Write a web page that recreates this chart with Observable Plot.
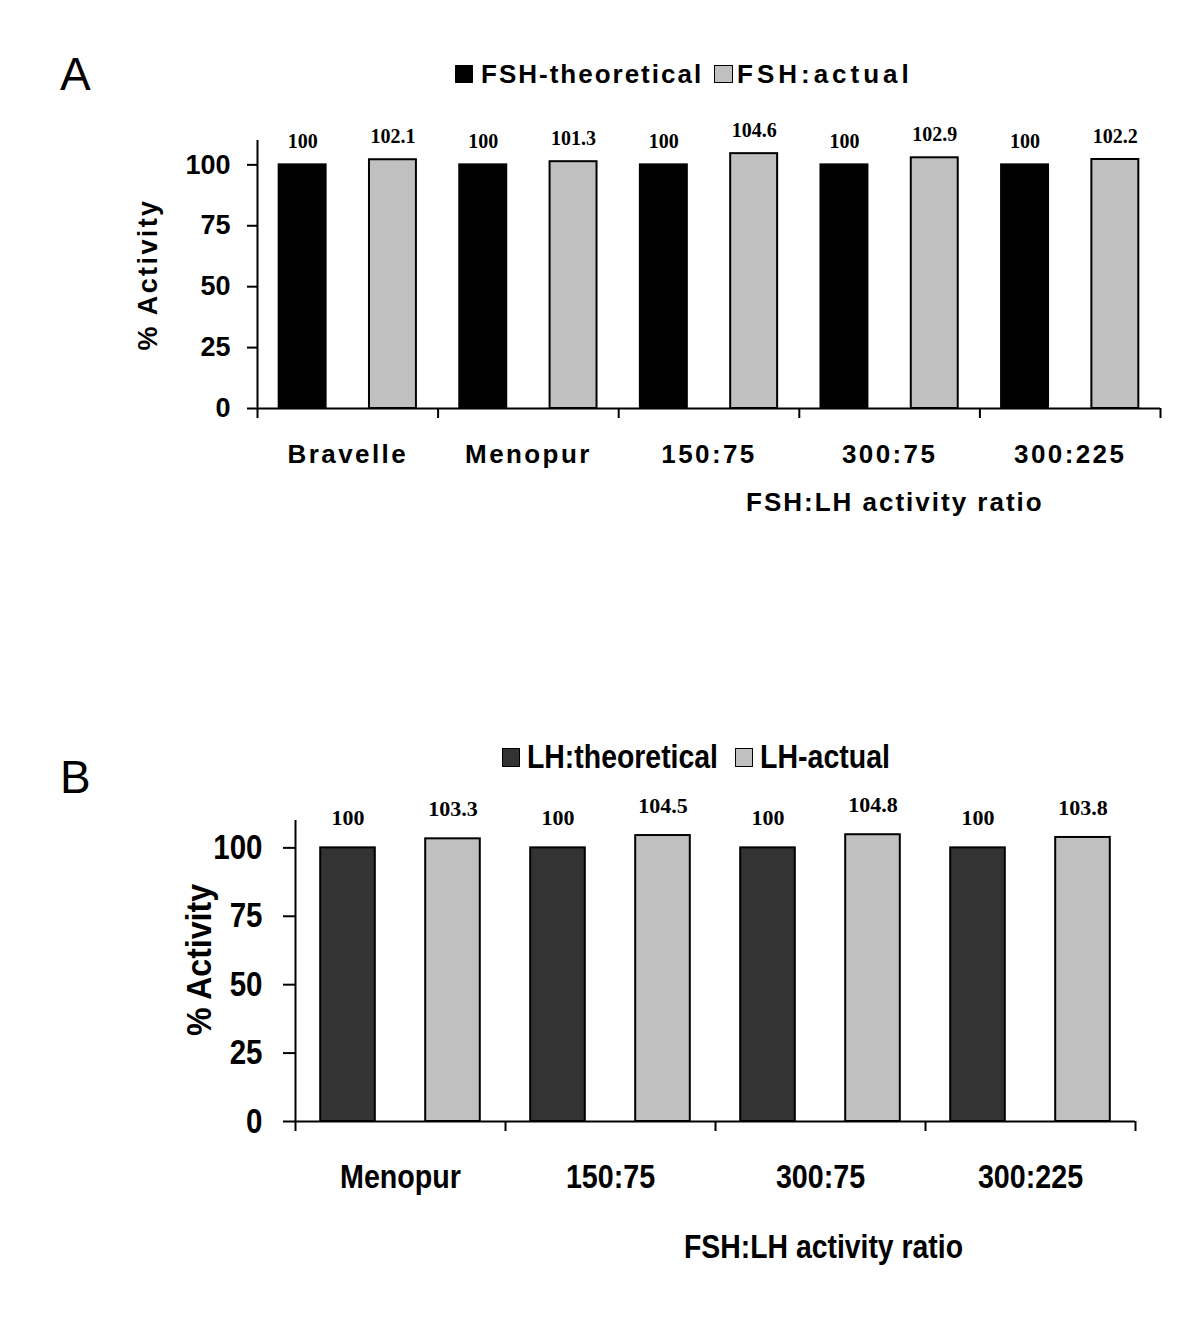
<!DOCTYPE html>
<html>
<head>
<meta charset="utf-8">
<script src="https://cdn.jsdelivr.net/npm/d3@7"></script>
<script src="https://cdn.jsdelivr.net/npm/@observablehq/plot@0.6"></script>
<style>
  html, body { margin: 0; padding: 0; background: #fff; }
  #page { position: relative; width: 1200px; height: 1344px; background: #fff; overflow: hidden; color: #000; }
  .abs { position: absolute; white-space: nowrap; line-height: 1; transform-origin: 0 50%; }
  .sans { font-family: "Liberation Sans", Arial, sans-serif; }
  .sw { position: absolute; box-sizing: border-box; }
</style>
</head>
<body>
<div id="page"></div>
<script>
// ---------- data ----------
const groupsA = ["Bravelle", "Menopur", "150:75", "300:75", "300:225"];
const theoreticalA = [100, 100, 100, 100, 100];
const actualA = [102.1, 101.3, 104.6, 102.9, 102.2];
const seriesA = ["FSH-theoretical", "FSH:actual"];
const colorsA = ["#000000", "#c0c0c0"];

const groupsB = ["Menopur", "150:75", "300:75", "300:225"];
const theoreticalB = [100, 100, 100, 100];
const actualB = [103.3, 104.5, 104.8, 103.8];
const seriesB = ["LH:theoretical", "LH-actual"];
const colorsB = ["#333333", "#c0c0c0"];

const yTicks = [0, 25, 50, 75, 100];
const yDomain = [0, 110];
const yLabel = "% Activity";
const xTitle = "FSH:LH activity ratio";

const page = document.getElementById("page");
const SANS = '"Liberation Sans", Arial, sans-serif';
const SERIF = '"Liberation Serif", "Times New Roman", serif';

function addText(txt, left, top, fs, extra = {}, fitWidth = null) {
  const d = document.createElement("div");
  d.className = "abs sans";
  d.textContent = txt;
  d.style.left = left + "px";
  d.style.top = top + "px";
  d.style.fontSize = fs + "px";
  Object.assign(d.style, extra);
  page.appendChild(d);
  if (fitWidth) {
    const w = d.getBoundingClientRect().width;
    if (w > 0) d.style.transform = `scaleX(${fitWidth / w})`;
  }
  return d;
}
function addSwatch(left, top, w, h, fill, border) {
  const d = document.createElement("div");
  d.className = "sw";
  Object.assign(d.style, {left: left + "px", top: top + "px", width: w + "px", height: h + "px", background: fill,
    border: border ? border : "none"});
  page.appendChild(d);
}
function squeeze(texts, k) {
  texts.forEach(t => {
    const L = t.getComputedTextLength();
    if (L > 0) { t.setAttribute("textLength", L * k); t.setAttribute("lengthAdjust", "spacingAndGlyphs"); }
  });
}

function drawPanel(cfg) {
  const {groups, theoretical, actual, series, colors} = cfg;
  const rows = groups.flatMap((g, i) => [
    {g, i, s: series[0], v: theoretical[i]},
    {g, i, s: series[1], v: actual[i]}
  ]);
  const slot = d3.scaleBand().domain(series).range([0, 1]).paddingInner(0.48).paddingOuter(0.24);
  const bw = slot.bandwidth();
  const x1 = d => d.i + slot(d.s);
  const x2 = d => d.i + slot(d.s) + bw;
  const xm = d => d.i + slot(d.s) + bw / 2;

  const svg = Plot.plot({
    width: 1200,
    height: cfg.height,
    marginTop: cfg.mt, marginBottom: cfg.mb, marginLeft: cfg.ml, marginRight: cfg.mr,
    style: {background: "transparent", color: "#000", overflow: "visible", fontFamily: SANS},
    x: {domain: [0, groups.length], axis: null},
    y: {domain: yDomain, axis: null},
    color: {type: "ordinal", domain: series, range: colors},
    marks: [
      Plot.rect(rows, {x1, x2, y1: 0, y2: "v", fill: "s", stroke: "#000", strokeWidth: 2}),
      Plot.ruleX([0], {stroke: "#000", strokeWidth: 2}),
      Plot.ruleY([0], {stroke: "#000", strokeWidth: 2}),
      Plot.axisY({ticks: yTicks, tickSize: cfg.ytick, tickPadding: cfg.ypad, strokeWidth: 2,
        fontSize: cfg.yfs, fontWeight: "bold", fontFamily: SANS,
        label: yLabel, labelAnchor: "center", labelOffset: cfg.ylo, labelArrow: "none"}),
      Plot.axisX({ticks: d3.range(groups.length + 1), tickSize: cfg.xtick, tickFormat: () => "",
        strokeWidth: 2, label: null}),
      Plot.axisX({ticks: groups.map((g, i) => i + 0.5), tickFormat: v => groups[Math.floor(v)],
        tickSize: 0, tickPadding: cfg.xpad, fontSize: cfg.xfs, fontWeight: "bold", fontFamily: SANS, label: null}),
      Plot.text(rows, {x: xm, y: "v", text: d => String(d.v), dy: cfg.vdy, fontSize: cfg.vfs,
        fontWeight: "bold", fontFamily: SERIF, fill: "#000"})
    ]
  });
  svg.querySelectorAll('g[aria-label="x-axis tick label"], g[aria-label="y-axis label"]').forEach(g => {
    g.setAttribute("letter-spacing", cfg.ls);
  });
  const wrap = document.createElement("div");
  wrap.style.position = "absolute";
  wrap.style.left = "0px";
  wrap.style.top = cfg.top + "px";
  wrap.appendChild(svg);
  page.appendChild(wrap);

  if (cfg.narrow) {
    // condensed look: fit the first category label to its width in the reference, squeeze the rest alike
    const xt = [...svg.querySelectorAll('g[aria-label="x-axis tick label"] text')].filter(t => t.textContent);
    const ref = xt.find(t => t.textContent === groups[0]);
    const k = ref ? cfg.narrow / ref.getComputedTextLength() : 0.8;
    squeeze(xt, k);
    squeeze([...svg.querySelectorAll('g[aria-label="y-axis tick label"] text')], k);
    const yl = [...svg.querySelectorAll('g[aria-label="y-axis label"] text')];
    yl.forEach(t => {
      const L = t.getComputedTextLength();
      if (L > 0) { t.setAttribute("textLength", cfg.ylen); t.setAttribute("lengthAdjust", "spacingAndGlyphs"); }
      if (cfg.yshift) t.setAttribute("transform", `translate(0,${cfg.yshift}) ` + (t.getAttribute("transform") || ""));
    });
  }
}

// ---------- Panel A ----------
drawPanel({
  groups: groupsA, theoretical: theoreticalA, actual: actualA, series: seriesA, colors: colorsA,
  top: 0, height: 540, mt: 140, mb: 132, ml: 257, mr: 40,
  ytick: 10, ypad: 17, yfs: 27, ylo: 120, xtick: 10, xpad: 36, xfs: 26,
  vdy: -23, vfs: 20, ls: "2.4"
});
addText("A", 60, 51, 46);
addSwatch(455, 65, 18, 18, colorsA[0], null);
addText(seriesA[0], 481, 61, 26, {fontWeight: "bold", letterSpacing: "2px"});
addSwatch(714, 65, 19, 18, colorsA[1], "1.5px solid #000");
addText(seriesA[1], 737, 61, 26, {fontWeight: "bold", letterSpacing: "4px"});
addText(xTitle, 746, 489, 26, {fontWeight: "bold", letterSpacing: "2px"});

// ---------- Panel B ----------
drawPanel({
  groups: groupsB, theoretical: theoreticalB, actual: actualB, series: seriesB, colors: colorsB,
  top: 700, height: 600, mt: 120, mb: 179, ml: 295, mr: 65,
  ytick: 12, ypad: 21, yfs: 35, ylo: 109, xtick: 10, xpad: 42, xfs: 34,
  vdy: -30, vfs: 22, ls: "0", narrow: 121, ylen: 152, yshift: -11
});
addText("B", 60, 754, 46);
addSwatch(502, 748, 18, 19, colorsB[0], "1px solid #000");
addText(seriesB[0], 527, 739, 34, {fontWeight: "bold"}, 191);
addSwatch(735, 748, 18, 19, colorsB[1], "1.5px solid #000");
addText(seriesB[1], 760, 739, 34, {fontWeight: "bold"}, 130);
addText(xTitle, 684, 1229, 34, {fontWeight: "bold"}, 279);
</script>
</body>
</html>
